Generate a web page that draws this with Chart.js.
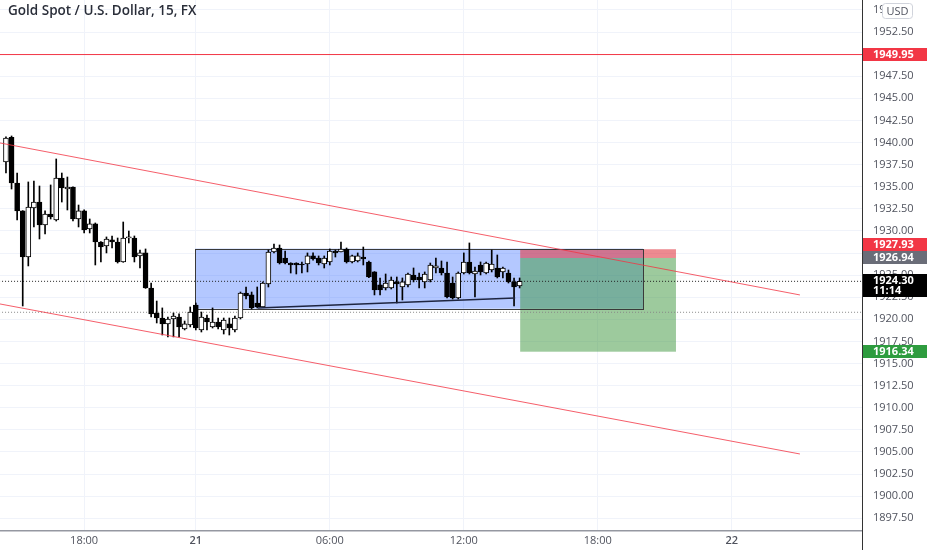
<!DOCTYPE html>
<html>
<head>
<meta charset="utf-8">
<script src="https://cdn.jsdelivr.net/npm/chart.js@4.4.0/dist/chart.umd.min.js"></script>
<style>
  html, body { margin: 0; padding: 0; background: #fff; }
  #wrap { width: 932px; height: 550px; }
</style>
</head>
<body>
<div id="wrap"><canvas id="chart1" width="932" height="550"></canvas></div>
<script>
const title = "Gold Spot / U.S. Dollar, 15, FX";

// 15 min candles, bar index 0..92
const opens = [1937.80, 1940.60, 1935.42, 1932.26, 1927.05, 1932.60, 1933.27, 1930.67, 1931.92, 1931.24,
  1935.99, 1934.74, 1934.97, 1931.35, 1932.26, 1930.22, 1930.79, 1928.75, 1928.30, 1928.98,
  1928.75, 1926.49, 1929.20, 1929.20, 1927.17, 1927.51, 1923.55, 1920.72, 1920.15, 1919.48,
  1920.04, 1920.27, 1918.91, 1919.36, 1921.62, 1918.80, 1920.15, 1919.14, 1919.70, 1918.80,
  1919.48, 1918.80, 1920.15, 1922.98, 1922.76, 1921.85, 1921.40, 1924.00, 1927.62, 1928.07,
  1926.94, 1926.37, 1926.37, 1926.26, 1926.26, 1927.17, 1926.94, 1926.26, 1926.49, 1927.73,
  1927.62, 1927.96, 1926.49, 1926.60, 1927.05, 1926.49, 1925.36, 1923.89, 1923.55, 1923.55,
  1924.23, 1923.66, 1923.89, 1925.02, 1924.79, 1924.23, 1924.45, 1925.81, 1925.81, 1925.24,
  1924.11, 1922.42, 1925.24, 1926.49, 1925.13, 1926.15, 1925.24, 1925.58, 1925.81, 1925.36,
  1925.24, 1924.23, 1923.77];
const highs = [1940.63, 1940.74, 1936.55, 1932.30, 1935.54, 1935.65, 1935.08, 1932.26, 1935.20, 1938.14,
  1936.55, 1936.10, 1935.00, 1932.93, 1932.40, 1931.35, 1930.90, 1928.80, 1929.32, 1929.43,
  1929.20, 1931.01, 1929.99, 1929.43, 1927.84, 1927.96, 1924.11, 1922.07, 1921.29, 1920.27,
  1920.72, 1920.61, 1919.81, 1921.40, 1921.85, 1920.83, 1920.49, 1921.29, 1920.15, 1920.15,
  1920.15, 1920.38, 1923.09, 1923.66, 1923.09, 1923.66, 1924.23, 1927.84, 1928.52, 1928.41,
  1927.73, 1926.40, 1926.40, 1926.49, 1927.51, 1927.51, 1927.17, 1927.17, 1927.96, 1927.84,
  1928.75, 1928.07, 1927.28, 1927.51, 1928.18, 1926.60, 1925.40, 1924.68, 1925.13, 1924.79,
  1924.79, 1924.68, 1925.24, 1925.81, 1925.24, 1925.36, 1926.37, 1926.94, 1926.60, 1926.49,
  1924.79, 1925.36, 1927.51, 1928.64, 1925.92, 1926.49, 1926.49, 1927.84, 1927.28, 1925.92,
  1925.58, 1924.68, 1924.68];
const lows = [1936.55, 1934.74, 1931.24, 1921.51, 1926.04, 1930.45, 1929.09, 1929.65, 1931.35, 1931.12,
  1933.27, 1932.37, 1931.12, 1930.45, 1929.77, 1929.77, 1926.15, 1926.49, 1927.51, 1928.07,
  1926.37, 1926.45, 1928.64, 1926.49, 1925.81, 1923.50, 1920.27, 1919.59, 1918.23, 1918.01,
  1918.01, 1918.01, 1918.80, 1919.14, 1918.80, 1918.57, 1918.80, 1919.02, 1918.91, 1918.34,
  1918.23, 1918.57, 1920.04, 1922.30, 1921.17, 1921.29, 1921.40, 1923.66, 1927.51, 1926.26,
  1926.26, 1925.24, 1925.13, 1925.24, 1925.36, 1926.70, 1926.15, 1925.81, 1926.15, 1927.05,
  1927.62, 1926.37, 1926.37, 1926.49, 1926.15, 1924.70, 1922.76, 1922.76, 1923.32, 1923.43,
  1921.85, 1922.19, 1923.66, 1924.23, 1923.55, 1923.55, 1924.23, 1925.24, 1925.02, 1922.42,
  1922.30, 1922.30, 1925.13, 1925.13, 1922.53, 1925.02, 1925.13, 1925.36, 1924.68, 1924.68,
  1924.11, 1921.51, 1923.55];
const closes = [1940.51, 1935.42, 1932.26, 1927.05, 1932.71, 1933.27, 1930.67, 1931.92, 1931.58, 1935.99,
  1934.86, 1934.97, 1931.35, 1932.26, 1930.11, 1930.79, 1928.75, 1928.18, 1929.09, 1928.75,
  1926.49, 1929.20, 1929.32, 1927.05, 1927.51, 1923.55, 1920.61, 1920.15, 1919.48, 1920.04,
  1920.38, 1919.14, 1919.48, 1920.83, 1919.02, 1920.27, 1919.70, 1919.70, 1919.14, 1919.93,
  1919.02, 1920.15, 1922.98, 1922.64, 1921.29, 1921.40, 1924.11, 1927.62, 1928.07, 1926.37,
  1926.37, 1926.15, 1926.15, 1926.15, 1927.17, 1926.83, 1926.37, 1926.94, 1927.73, 1927.51,
  1927.96, 1926.49, 1927.17, 1927.17, 1926.83, 1924.79, 1923.32, 1923.32, 1924.11, 1924.45,
  1924.00, 1924.23, 1925.13, 1924.45, 1924.45, 1925.13, 1926.15, 1926.04, 1925.24, 1922.53,
  1922.42, 1925.24, 1926.49, 1925.24, 1925.47, 1925.36, 1926.37, 1926.26, 1924.79, 1925.81,
  1924.23, 1923.66, 1924.30];

const tickIdx = [14, 34, 58, 82, 106, 130];
const tickText = ["18:00", "21", "06:00", "12:00", "18:00", "22"];

// drawings (bar index, price)
const resistance = 1949.95;
const channelTop = [[-1.07, 1939.95], [142.2, 1922.76]];
const channelBottom = [[-1.07, 1921.74], [142.2, 1904.77]];
const trendLine = [[45.1, 1921.29], [91.2, 1922.42]];
const boxBars = [33.9, 114.1];
const boxPrices = [1921.2, 1928.0];
const posBars = [92.1, 120.0];
const stopPrice = 1927.93;
const entryPrice = 1926.94;
const targetPrice = 1916.34;
const prevClose = 1920.80;
const countdown = "11:14";

const idx = closes.map((c, i) => i);
const lastPrice = closes[closes.length - 1];
const isUp = idx.map(i => closes[i] >= opens[i]);

const seg = (pts) => pts.map(p => ({ x: p[0], y: p[1] }));
const hline = (v) => [{ x: -5, y: v }, { x: 160, y: v }];

const drawings = {
  id: "drawings",
  beforeDatasetsDraw(chart) {
    const { ctx, chartArea: a, scales: { x, y } } = chart;
    const box = (b0, b1, p0, p1) => {
      const x0 = x.getPixelForValue(b0), x1 = x.getPixelForValue(b1);
      const y0 = y.getPixelForValue(p0), y1 = y.getPixelForValue(p1);
      return [Math.min(x0, x1), Math.min(y0, y1), Math.abs(x1 - x0), Math.abs(y1 - y0)];
    };
    ctx.save();
    ctx.beginPath();
    ctx.rect(a.left, a.top, a.right - a.left, a.bottom - a.top);
    ctx.clip();
    ctx.fillStyle = "rgba(41, 98, 255, 0.35)";
    ctx.fillRect(...box(boxBars[0], boxBars[1], boxPrices[0], boxPrices[1]));
    ctx.fillStyle = "rgba(225, 60, 70, 0.6)";
    ctx.fillRect(...box(posBars[0], posBars[1], entryPrice, stopPrice));
    ctx.fillStyle = "rgba(60, 150, 60, 0.5)";
    ctx.fillRect(...box(posBars[0], posBars[1], targetPrice, entryPrice));
    ctx.strokeStyle = "#3a3a3a";
    ctx.lineWidth = 1;
    const r = box(boxBars[0], boxBars[1], boxPrices[0], boxPrices[1]);
    ctx.strokeRect(Math.round(r[0]) + 0.5, Math.round(r[1]) + 0.5, Math.round(r[2]), Math.round(r[3]));
    ctx.restore();
  },
  afterDraw(chart) {
    const { ctx, chartArea: a, scales: { y } } = chart;
    ctx.save();
    // title
    ctx.font = "600 13.5px 'Open Sans'";
    ctx.fillStyle = "#2a2e39";
    ctx.textBaseline = "middle";
    ctx.textAlign = "left";
    ctx.fillText(title, 8, 11);
    // axis line down to the bottom
    ctx.strokeStyle = "#333";
    ctx.lineWidth = 1;
    ctx.beginPath();
    ctx.moveTo(a.right + 0.5, a.bottom);
    ctx.lineTo(a.right + 0.5, 550);
    ctx.stroke();
    // USD button
    ctx.fillStyle = "#fff";
    ctx.strokeStyle = "#d1d4dc";
    ctx.beginPath();
    ctx.roundRect(882.5, 3.5, 30, 15, 3);
    ctx.fill();
    ctx.stroke();
    ctx.fillStyle = "#50535e";
    ctx.font = "11px 'Open Sans'";
    ctx.textAlign = "center";
    ctx.fillText("USD", 897.5, 11.5);
    // price labels; top is optional (used when labels collide)
    const tag = (v, bg, top, extra) => {
      const py = y.getPixelForValue(v);
      const h = extra ? 23 : 13;
      const t = Math.round(top !== undefined ? top : (extra ? py - 7 : py - h / 2));
      ctx.fillStyle = bg;
      ctx.fillRect(a.right + 1, t, 64, h);
      ctx.fillStyle = "#fff";
      ctx.font = "bold 11px 'Open Sans'";
      ctx.textAlign = "left";
      ctx.fillText(v.toFixed(2), a.right + 11, t + 6.5);
      if (extra) ctx.fillText(extra, a.right + 11, t + 17);
      return t;
    };
    tag(resistance, "#f23645");
    const entryTop = tag(entryPrice, "#6a6d78");
    tag(stopPrice, "#f23645", entryTop - 13);
    tag(targetPrice, "#2e9c3f");
    tag(lastPrice, "#000", undefined, countdown);
    ctx.restore();
  }
};

new Chart(document.getElementById("chart1").getContext("2d"), {
  type: "bar",
  data: {
    datasets: [
      {
        label: "bodies",
        data: idx.map(i => ({ x: i, y: [opens[i], Math.abs(closes[i] - opens[i]) < 0.08 ? opens[i] + 0.1 : closes[i]] })),
        backgroundColor: idx.map(i => (isUp[i] ? "#ffffff" : "#000000")),
        borderColor: "#000",
        borderWidth: 1,
        borderSkipped: false,
        barThickness: 5,
        grouped: false,
        order: 1,
      },
      {
        label: "wicks",
        data: idx.map(i => ({ x: i, y: [lows[i], highs[i]] })),
        backgroundColor: "#000",
        barThickness: 1,
        grouped: false,
        order: 2,
      },
      {
        type: "line",
        data: hline(lastPrice),
        borderColor: "#222",
        borderWidth: 1,
        borderDash: [1, 2],
        pointRadius: 0,
        order: 3,
      },
      {
        type: "line",
        data: hline(prevClose),
        borderColor: "#888",
        borderWidth: 1,
        borderDash: [1, 2],
        pointRadius: 0,
        order: 3,
      },
      {
        type: "line",
        data: hline(resistance),
        borderColor: "#f23645",
        borderWidth: 1,
        pointRadius: 0,
        order: 0,
      },
      {
        type: "line",
        data: seg(channelTop),
        borderColor: "rgba(242, 54, 69, 0.8)",
        borderWidth: 1,
        pointRadius: 0,
        order: 0,
      },
      {
        type: "line",
        data: seg(channelBottom),
        borderColor: "rgba(242, 54, 69, 0.8)",
        borderWidth: 1,
        pointRadius: 0,
        order: 0,
      },
      {
        type: "line",
        data: seg(trendLine),
        borderColor: "#1e2540",
        borderWidth: 1.5,
        pointRadius: 0,
        order: 0,
      },
    ],
  },
  options: {
    responsive: false,
    animation: false,
    events: [],
    layout: { padding: 0 },
    plugins: { legend: { display: false }, tooltip: { enabled: false } },
    scales: {
      x: {
        type: "linear",
        min: -1.07,
        max: 153.32,
        offset: false,
        grid: { color: "#f0f3fa", drawTicks: false, offset: false },
        border: { display: true, color: "#9598a1", width: 1.5 },
        afterBuildTicks: (scale) => { scale.ticks = tickIdx.map(v => ({ value: v })); },
        afterFit: (scale) => { scale.height = 19; scale.paddingLeft = 0; scale.paddingRight = 0; },
        ticks: {
          autoSkip: false,
          maxRotation: 0,
          padding: 3,
          color: "#50535e",
          font: (c) => ({ family: "'Open Sans'", size: 11, weight: c.tick && (c.tick.value === 34 || c.tick.value === 130) ? "600" : "normal" }),
          callback: (v) => tickText[tickIdx.indexOf(v)],
        },
      },
      y: {
        position: "right",
        min: 1896.06,
        max: 1956.12,
        grid: { color: "#f0f3fa", drawTicks: false },
        border: { display: true, color: "#333" },
        afterFit: (scale) => { scale.width = 70; scale.paddingTop = 0; scale.paddingBottom = 0; },
        ticks: {
          stepSize: 2.5,
          includeBounds: false,
          padding: 11,
          color: "#50535e",
          font: { family: "'Open Sans'", size: 11 },
          callback: (v) => v.toFixed(2),
        },
      },
    },
  },
  plugins: [drawings],
});
</script>
</body>
</html>
